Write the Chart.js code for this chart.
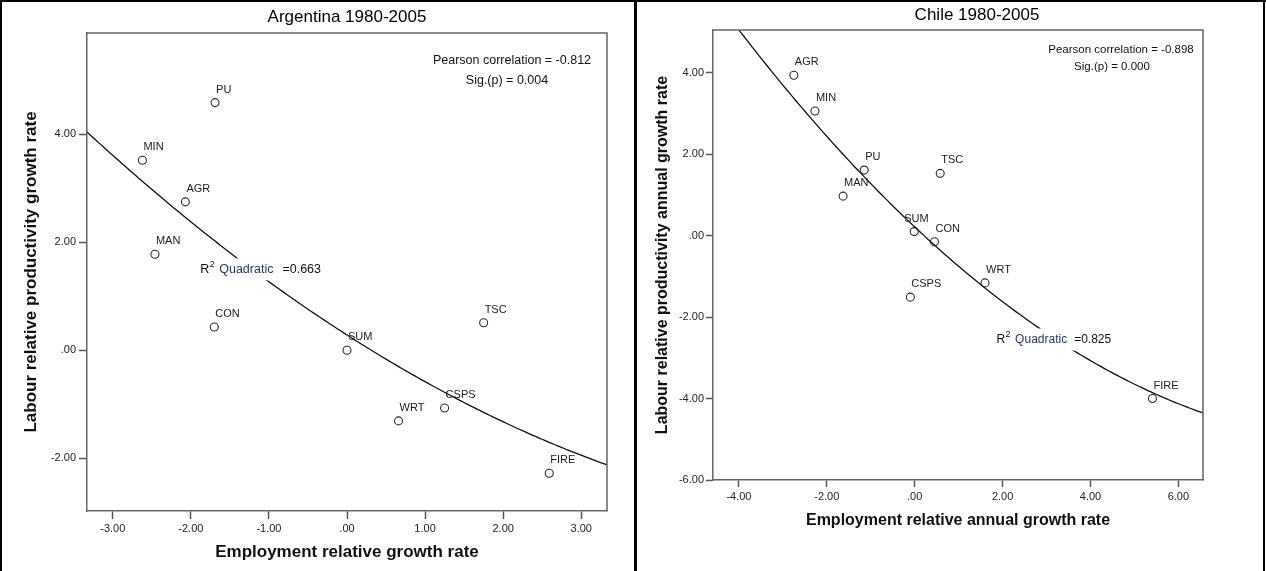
<!DOCTYPE html>
<html>
<head>
<meta charset="utf-8">
<title>Employment and labour productivity growth by sector</title>
<script src="https://cdn.jsdelivr.net/npm/chart.js@4.4.1/dist/chart.umd.min.js"></script>
<style>
  html, body { margin: 0; padding: 0; background: #fff; }
  #wrap { position: relative; width: 1266px; height: 571px; overflow: hidden; background: #fff; }
  .panel { position: absolute; top: 0; height: 571px; }
  .rule { position: absolute; background: #000; }
</style>
</head>
<body>
<div id="wrap">
  <div class="panel" style="left:0;width:634px"><canvas id="chartArg"></canvas></div>
  <div class="panel" style="left:637px;width:626px"><canvas id="chartChl"></canvas></div>
  <div class="rule" style="left:0;top:0;width:1266px;height:2px"></div>
  <div class="rule" style="left:0;top:0;width:2px;height:571px"></div>
  <div class="rule" style="left:634px;top:0;width:3px;height:571px"></div>
  <div class="rule" style="left:1263px;top:0;width:2px;height:571px"></div>
</div>
<script>
// Sectors (same order in every array below)
const sectors = ['AGR', 'MIN', 'MAN', 'PU', 'CON', 'WRT', 'TSC', 'FIRE', 'CSPS', 'SUM'];

// Argentina 1980-2005
const argEmployment   = [-2.07, -2.62, -2.46, -1.69, -1.70, 0.66, 1.75, 2.59, 1.25, 0.00];
const argProductivity = [ 2.75,  3.52,  1.78,  4.59,  0.43, -1.31, 0.51, -2.28, -1.07, 0.00];
const argTicksX = [-3, -2, -1, 0, 1, 2, 3];
const argTicksY = [-2, 0, 2, 4];
const argStats = ['Pearson correlation = -0.812', 'Sig.(p) = 0.004'];
const argR2 = '=0.663';

// Chile 1980-2005
const chlEmployment   = [-2.75, -2.27, -1.63, -1.15, 0.45, 1.60, 0.58, 5.41, -0.10, -0.01];
const chlProductivity = [ 3.94,  3.06,  0.97,  1.61, -0.15, -1.16, 1.53, -4.00, -1.51, 0.10];
const chlTicksX = [-4, -2, 0, 2, 4, 6];
const chlTicksY = [-6, -4, -2, 0, 2, 4];
const chlStats = ['Pearson correlation = -0.898', 'Sig.(p) = 0.000'];
const chlR2 = '=0.825';

const FONT = '"Liberation Sans", Arial, Helvetica, sans-serif';
Chart.defaults.font.family = FONT;
Chart.defaults.color = '#222';

// Least-squares quadratic y = a + b x + c x^2
function quadFit(xs, ys) {
  const s = [0, 0, 0, 0, 0], t = [0, 0, 0];
  xs.forEach((x, i) => {
    let p = 1;
    for (let k = 0; k < 5; k++) { s[k] += p; if (k < 3) t[k] += ys[i] * p; p *= x; }
  });
  const m = [[s[0], s[1], s[2], t[0]], [s[1], s[2], s[3], t[1]], [s[2], s[3], s[4], t[2]]];
  for (let c = 0; c < 3; c++) {
    let piv = c;
    for (let r = c + 1; r < 3; r++) if (Math.abs(m[r][c]) > Math.abs(m[piv][c])) piv = r;
    [m[c], m[piv]] = [m[piv], m[c]];
    for (let r = 0; r < 3; r++) {
      if (r === c) continue;
      const f = m[r][c] / m[c][c];
      for (let k = c; k < 4; k++) m[r][k] -= f * m[c][k];
    }
  }
  return [m[0][3] / m[0][0], m[1][3] / m[1][1], m[2][3] / m[2][2]];
}

function fitCurve(xs, ys, xmin, xmax) {
  const [a, b, c] = quadFit(xs, ys);
  const pts = [];
  const n = 160;
  for (let i = 0; i <= n; i++) {
    const x = xmin + (xmax - xmin) * i / n;
    pts.push({ x, y: a + b * x + c * x * x });
  }
  return pts;
}

const fmtTick = v => {
  const s = Math.abs(v).toFixed(2);
  return (v < 0 ? '-' : '') + (s.startsWith('0') ? s.slice(1) : s);
};

// Frame, titles, point labels, fit label and statistics
const decor = {
  id: 'decor',
  afterDatasetsDraw(chart, args, o) {
    const { ctx, chartArea: a, scales: { x, y } } = chart;
    ctx.save();
    // top and right sides of the plot frame
    ctx.strokeStyle = '#666';
    ctx.lineWidth = 1.5;
    ctx.beginPath();
    ctx.moveTo(a.left, a.top); ctx.lineTo(a.right, a.top); ctx.lineTo(a.right, a.bottom);
    ctx.stroke();

    // chart title
    ctx.fillStyle = '#000';
    ctx.font = o.titleSize + 'px ' + FONT;
    ctx.textAlign = 'center';
    ctx.textBaseline = 'middle';
    ctx.fillText(o.title, o.titleX, o.titleY);

    // sector labels
    ctx.font = '11px ' + FONT;
    ctx.fillStyle = '#1a1a1a';
    ctx.textAlign = 'left';
    ctx.textBaseline = 'middle';
    o.labels.forEach((lab, i) => {
      const px = x.getPixelForValue(o.xs[i]);
      const py = y.getPixelForValue(o.ys[i]);
      const nudge = (o.nudge && o.nudge[lab]) || 0;
      ctx.fillText(lab, px + 1 + nudge, py - 13);
    });

    // R² Quadratic label on a white box that interrupts the curve
    const lx = x.getPixelForValue(o.r2At[0]);
    const ly = y.getPixelForValue(o.r2At[1]);
    const fMain = o.r2Size + 'px ' + FONT;
    const fSup = '9px ' + FONT;
    ctx.font = fMain;
    const wR = ctx.measureText('R').width;
    const wQ = ctx.measureText('Quadratic').width;
    const wV = ctx.measureText(o.r2).width;
    ctx.font = fSup;
    const w2 = ctx.measureText('2').width;
    const gap1 = 5, gap2 = o.r2Gap;
    const total = wR + w2 + gap1 + wQ + gap2 + wV;
    ctx.fillStyle = '#fff';
    ctx.fillRect(lx - 2, ly - 11, total + 4, 22);
    ctx.textAlign = 'left';
    ctx.textBaseline = 'middle';
    let cx = lx;
    ctx.font = fMain; ctx.fillStyle = '#111';
    ctx.fillText('R', cx, ly); cx += wR;
    ctx.font = fSup;
    ctx.fillText('2', cx + 0.5, ly - 5); cx += w2 + gap1;
    ctx.font = fMain; ctx.fillStyle = '#27386a';
    ctx.fillText('Quadratic', cx, ly); cx += wQ + gap2;
    ctx.fillStyle = '#111';
    ctx.fillText(o.r2, cx, ly);

    // correlation statistics
    ctx.font = o.statSize + 'px ' + FONT;
    ctx.fillStyle = '#111';
    ctx.textAlign = 'center';
    ctx.fillText(o.stats[0], o.statX[0], a.top + o.statTop);
    ctx.fillText(o.stats[1], o.statX[1], a.top + o.statTop + o.statStep);
    ctx.restore();
  }
};

function makeChart(id, cfg) {
  const points = cfg.xs.map((x, i) => ({ x, y: cfg.ys[i] }));
  const axisCommon = (ticks, tickLen, pad) => ({
    type: 'linear',
    afterBuildTicks: s => { s.ticks = ticks.map(v => ({ value: v })); },
    ticks: { callback: v => fmtTick(v), font: { size: 11 }, color: '#222', padding: pad, autoSkip: false, maxRotation: 0 },
    grid: { drawOnChartArea: false, drawTicks: true, tickLength: tickLen, tickColor: '#555', tickWidth: 1.5 },
    border: { display: true, color: '#666', width: 1.5 }
  });
  const xAxis = Object.assign(axisCommon(cfg.ticksX, cfg.tickLen, cfg.xPad), {
    min: cfg.xRange[0], max: cfg.xRange[1],
    title: { display: true, text: cfg.xTitle, color: '#111', font: { size: cfg.axisTitleSize, weight: 'bold' }, padding: { top: 0, bottom: cfg.xTitlePad } },
    afterFit: s => { s.height = cfg.xAxisHeight; }
  });
  const yAxis = Object.assign(axisCommon(cfg.ticksY, cfg.tickLen, cfg.yPad), {
    min: cfg.yRange[0], max: cfg.yRange[1],
    title: { display: true, text: cfg.yTitle, color: '#111', font: { size: cfg.axisTitleSize, weight: 'bold' }, padding: { top: cfg.yTitlePad, bottom: 0 } },
    afterFit: s => { s.width = cfg.yAxisWidth; }
  });
  return new Chart(document.getElementById(id), {
    type: 'scatter',
    data: {
      datasets: [
        {
          type: 'line',
          label: 'Quadratic fit',
          data: fitCurve(cfg.xs, cfg.ys, cfg.xRange[0], cfg.xRange[1]),
          borderColor: '#111',
          borderWidth: 1.3,
          pointRadius: 0,
          tension: 0,
          fill: false
        },
        {
          label: 'Sectors',
          data: points,
          pointStyle: 'circle',
          pointRadius: 4,
          borderWidth: 1.1,
          borderColor: '#2a2a2a',
          backgroundColor: 'rgba(255,255,255,0)'
        }
      ]
    },
    options: {
      responsive: true,
      maintainAspectRatio: false,
      devicePixelRatio: 1,
      animation: false,
      events: [],
      layout: { padding: { left: 0, right: cfg.padRight, top: cfg.padTop, bottom: 0 } },
      scales: { x: xAxis, y: yAxis },
      plugins: {
        legend: { display: false },
        tooltip: { enabled: false },
        title: { display: false },
        decor: {
          title: cfg.title, titleSize: cfg.titleSize, titleX: cfg.titleX, titleY: cfg.titleY,
          labels: sectors, xs: cfg.xs, ys: cfg.ys, nudge: cfg.nudge,
          r2: cfg.r2, r2At: cfg.r2At, r2Gap: cfg.r2Gap, r2Size: cfg.r2Size,
          stats: cfg.stats, statSize: cfg.statSize, statX: cfg.statX, statTop: cfg.statTop, statStep: cfg.statStep
        }
      }
    },
    plugins: [decor]
  });
}

makeChart('chartArg', {
  title: 'Argentina 1980-2005', titleSize: 17, titleX: 347, titleY: 17,
  xs: argEmployment, ys: argProductivity,
  xRange: [-3.33, 3.33], yRange: [-2.98, 5.88],
  ticksX: argTicksX, ticksY: argTicksY,
  xTitle: 'Employment relative growth rate',
  yTitle: 'Labour relative productivity growth rate',
  axisTitleSize: 17, xTitlePad: 8, yTitlePad: 21,
  tickLen: 8, xPad: 3, yPad: 3,
  xAxisHeight: 60, yAxisWidth: 87, padRight: 27, padTop: 33,
  r2: argR2, r2At: [-1.88, 1.50], r2Gap: 9, r2Size: 12.5,
  stats: argStats, statSize: 12.5, statX: [512, 507], statTop: 28, statStep: 20,
  nudge: {}
});

makeChart('chartChl', {
  title: 'Chile 1980-2005', titleSize: 17, titleX: 340, titleY: 15,
  xs: chlEmployment, ys: chlProductivity,
  xRange: [-4.59, 6.56], yRange: [-6, 5.05],
  ticksX: chlTicksX, ticksY: chlTicksY,
  xTitle: 'Employment relative annual growth rate',
  yTitle: 'Labour relative productivity annual growth rate',
  axisTitleSize: 16, xTitlePad: 41, yTitlePad: 16,
  tickLen: 7, xPad: 3, yPad: 2,
  xAxisHeight: 91, yAxisWidth: 76, padRight: 60, padTop: 30,
  r2: chlR2, r2At: [1.86, -2.55], r2Gap: 7, r2Size: 12,
  stats: chlStats, statSize: 11.5, statX: [484, 475], statTop: 20, statStep: 17,
  nudge: { SUM: -11 }
});
</script>
</body>
</html>
